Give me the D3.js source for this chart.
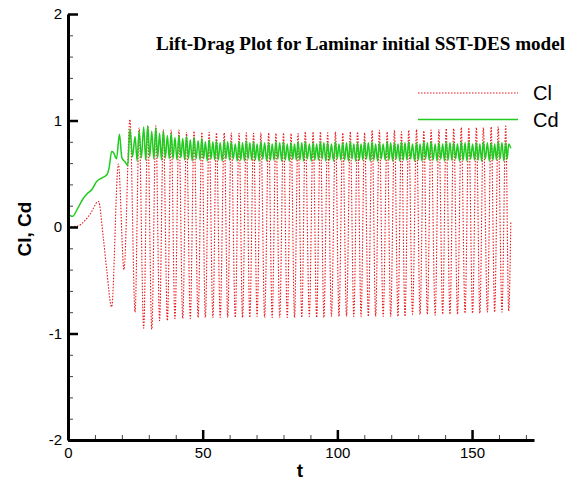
<!DOCTYPE html>
<meta charset="utf-8">
<head>
<style>
body { margin: 0; background: #fff; }
svg { display: block; }
.tick text { font: 15px Arial, "Liberation Sans", sans-serif; fill: #000; }
.axis .domain { stroke: #000; stroke-width: 3px; }
.major line { stroke: #000; stroke-width: 2.5px; }
.minor line { stroke: #444; stroke-width: 1px; }
.minor .domain { display: none; }
.title { font: bold 18px "Times New Roman", "Liberation Serif", serif; }
.label { font: bold 19px Arial, "Liberation Sans", sans-serif; }
.legend text { font: 20px Arial, "Liberation Sans", sans-serif; }
</style>
</head>
<body>
<svg width="573" height="481"></svg>
<script src="https://d3js.org/d3.v7.min.js"></script>
<script>

// ---- data ----
var clStart = [[0,0],[3.7,0.01],[5.9,0.05],[8.2,0.12],[11.3,0.24],[13.1,-0.1],[14.4,-0.41],
               [16.2,-0.75],[18.7,0.59],[20.8,-0.40]];

// Cl peaks (t, value) of the periodic part
var clPeaks = [[23.0,1.01],[26.4,0.93],[29.6,0.95],[32.6,0.95],[35.4,0.915],[38.3,0.91],[41.2,0.91],
  [44.0,0.89],[46.8,0.90],[49.7,0.89],[52.4,0.89],[55.1,0.885],[58.0,0.884],[60.6,0.885],[63.5,0.88],
  [66.2,0.884],[68.9,0.88],[71.6,0.884],[74.5,0.884],[77.2,0.88],[80.0,0.884],[82.8,0.878],[85.4,0.878],
  [88.1,0.894],[91.0,0.894],[93.7,0.894],[96.4,0.884],[99.3,0.894],[102.0,0.884],[104.8,0.894],
  [107.5,0.894],[110.1,0.884],[112.9,0.909],[115.6,0.909],[118.5,0.894],[121.2,0.909],[123.8,0.894],
  [126.5,0.909],[129.4,0.915],[132.1,0.903],[134.8,0.91],[137.7,0.915],[140.4,0.925],[143.2,0.925],
  [146.0,0.934],[148.8,0.934],[151.6,0.934],[154.2,0.934],[157.1,0.94],[159.7,0.94],[162.5,0.947]];

// Cl troughs
var clTroughs = [[24.9,-0.80],[28.1,-0.95],[31.1,-0.96],[34.0,-0.88],[36.9,-0.88],[39.7,-0.86],
  [42.6,-0.86],[45.4,-0.86],[48.3,-0.85],[51.0,-0.85],[53.8,-0.85],[56.5,-0.85],[59.3,-0.85],
  [62.1,-0.85],[64.8,-0.85],[67.5,-0.85],[70.2,-0.84],[73.0,-0.85],[75.8,-0.85],[78.6,-0.85],
  [81.4,-0.85],[84.1,-0.85],[86.8,-0.85],[89.6,-0.84],[92.3,-0.85],[95.0,-0.85],[97.8,-0.84],
  [100.6,-0.84],[103.4,-0.84],[106.1,-0.84],[108.8,-0.84],[111.5,-0.84],[114.2,-0.84],[117.0,-0.84],
  [119.8,-0.84],[122.5,-0.84],[125.1,-0.84],[127.9,-0.82],[130.7,-0.82],[133.4,-0.82],[136.3,-0.83],
  [139.1,-0.82],[141.8,-0.82],[144.6,-0.82],[147.4,-0.81],[150.2,-0.81],[152.9,-0.81],[155.7,-0.80],
  [158.4,-0.80],[161.1,-0.80],[163.6,-0.79]];

var clEnd = [[164.4,0.05]];

// Cd before the regular oscillation
var cdStart = [[0.7,0.11],[1.7,0.10],[3.5,0.17],[5.7,0.27],[7.0,0.31],[8.8,0.35],[10.7,0.43],
  [12.5,0.46],[14.4,0.49],[15.3,0.56],[16.2,0.71],[16.9,0.70],[18.0,0.64],[19.1,0.87],[20.0,0.65],
  [21.2,0.61],[22.2,0.58]];

// Cd highs, one at every Cl extremum
var cdHi = [0.92,0.85,0.90,0.94,0.95,0.90,0.93,0.88,0.90,0.86,
  0.88,0.84,0.86,0.83,0.85,0.82,0.84,0.81,0.83,0.80,
  0.82,0.80,0.81,0.79,0.81,0.80,0.80,0.78,0.80,0.79,
  0.81,0.79,0.80,0.78,0.80,0.79,0.79,0.78,0.80,0.79,
  0.80,0.78,0.79,0.78,0.80,0.79,0.80,0.78,0.79,0.78,
  0.80,0.79,0.79,0.78,0.80,0.78,0.79,0.79,0.80,0.78,
  0.79,0.78,0.80,0.79,0.80,0.78,0.79,0.78,0.80,0.79,
  0.79,0.78,0.80,0.79,0.80,0.78,0.79,0.78,0.80,0.79,
  0.80,0.78,0.79,0.78,0.80,0.79,0.79,0.78,0.80,0.79,
  0.80,0.78,0.79,0.78,0.80,0.79,0.79,0.78,0.80,0.79,
  0.79,0.78];

// Cd lows, between two Cl extrema
var cdLo = [0.66,0.62,0.65,0.63,0.66,0.64,0.65,0.63,0.65,0.64,
  0.64,0.63,0.65,0.63,0.64,0.62,0.64,0.63,0.64,0.62,
  0.64,0.63,0.63,0.62,0.64,0.63,0.64,0.62,0.63,0.62,
  0.64,0.63,0.63,0.62,0.64,0.62,0.63,0.63,0.64,0.62,
  0.63,0.62,0.64,0.63,0.63,0.62,0.64,0.62,0.63,0.63,
  0.64,0.62,0.63,0.62,0.64,0.63,0.63,0.62,0.64,0.62,
  0.63,0.63,0.64,0.62,0.63,0.62,0.64,0.63,0.63,0.62,
  0.64,0.62,0.63,0.63,0.64,0.62,0.63,0.62,0.64,0.63,
  0.63,0.62,0.64,0.62,0.63,0.63,0.64,0.62,0.63,0.62,
  0.64,0.63,0.63,0.62,0.64,0.62,0.63,0.63,0.64,0.62,
  0.64];

var cdEnd = [[164.4,0.74]];

var xMajor = [0, 50, 100, 150];
var yMajor = [-2, -1, 0, 1, 2];
var legendNames = ["Cl", "Cd"];
var titleText = "Lift-Drag Plot for Laminar initial SST-DES model";

// ---- layout ----
var svg = d3.select("svg");
var x = d3.scaleLinear().domain([0, 173]).range([68, 534]);
var y = d3.scaleLinear().domain([-2, 2]).range([440, 14]);

// build the series
var clExt = clPeaks.concat(clTroughs).sort(function(a, b) { return a[0] - b[0]; });
var cl = clStart.concat(clExt, clEnd);

var cdOsc = [];
clExt.forEach(function(p, i) {
  cdOsc.push([p[0], cdHi[i]]);
  if (i < clExt.length - 1) cdOsc.push([(p[0] + clExt[i + 1][0]) / 2, cdLo[i]]);
});
var cd = cdStart.concat(cdOsc, cdEnd);

var line = d3.line()
    .x(function(d) { return x(d[0]); })
    .y(function(d) { return y(d[1]); })
    .curve(d3.curveMonotoneX);

svg.append("path")
    .datum(cl)
    .attr("d", line)
    .attr("fill", "none")
    .attr("stroke", "#e8161a")
    .attr("stroke-width", 1.1)
    .attr("stroke-dasharray", "1.5,1.5");

svg.append("path")
    .datum(cd)
    .attr("d", line)
    .attr("fill", "none")
    .attr("stroke", "#1ecb1e")
    .attr("stroke-width", 1.5);

// ---- axes ----
var xMinor = d3.range(0, 171, 10).filter(function(d) { return d % 50; });
var yMinor = d3.range(-20, 21, 2).map(function(d) { return d / 10; }).filter(function(d) { return d % 1; });

svg.append("g").attr("class", "axis minor")
    .attr("transform", "translate(0,440)")
    .call(d3.axisBottom(x).tickValues(xMinor).tickSize(-5).tickFormat(""));
svg.append("g").attr("class", "axis minor")
    .attr("transform", "translate(68,0)")
    .call(d3.axisLeft(y).tickValues(yMinor).tickSize(-5).tickFormat(""));

svg.append("g").attr("class", "axis major")
    .attr("transform", "translate(0,440)")
    .call(d3.axisBottom(x).tickValues(xMajor).tickSizeInner(-10).tickSizeOuter(0)
      .tickPadding(7).tickFormat(function(d) { return String(d); }));
svg.append("g").attr("class", "axis major")
    .attr("transform", "translate(68,0)")
    .call(d3.axisLeft(y).tickValues(yMajor).tickSizeInner(-10).tickSizeOuter(0)
      .tickPadding(6).tickFormat(function(d) { return String(d); }));

// ---- labels ----
svg.append("text").attr("class", "label")
    .attr("x", 300).attr("y", 477)
    .attr("text-anchor", "middle")
    .text("t");

svg.append("text").attr("class", "label")
    .attr("transform", "translate(31,229) rotate(-90)")
    .attr("text-anchor", "middle")
    .text("Cl, Cd");

svg.append("text").attr("class", "title")
    .attr("x", 156).attr("y", 50)
    .attr("textLength", 409)
    .attr("lengthAdjust", "spacingAndGlyphs")
    .text(titleText);

// ---- legend ----
var legend = svg.append("g").attr("class", "legend");
var ly = d3.scalePoint().domain(legendNames).range([93, 119.5]);
var lcol = { Cl: "#e8161a", Cd: "#1ecb1e" };

legend.selectAll("line")
    .data(legendNames)
    .enter().append("line")
      .attr("x1", 418).attr("x2", 518)
      .attr("y1", function(d) { return ly(d); })
      .attr("y2", function(d) { return ly(d); })
      .attr("stroke", function(d) { return lcol[d]; })
      .attr("stroke-width", function(d) { return d == "Cl" ? 1.1 : 1.4; })
      .attr("stroke-dasharray", function(d) { return d == "Cl" ? "1.5,1.5" : null; });

legend.selectAll("text")
    .data(legendNames)
    .enter().append("text")
      .attr("x", 533)
      .attr("y", function(d) { return ly(d) + 7; })
      .text(function(d) { return d; });

</script>
</body>
